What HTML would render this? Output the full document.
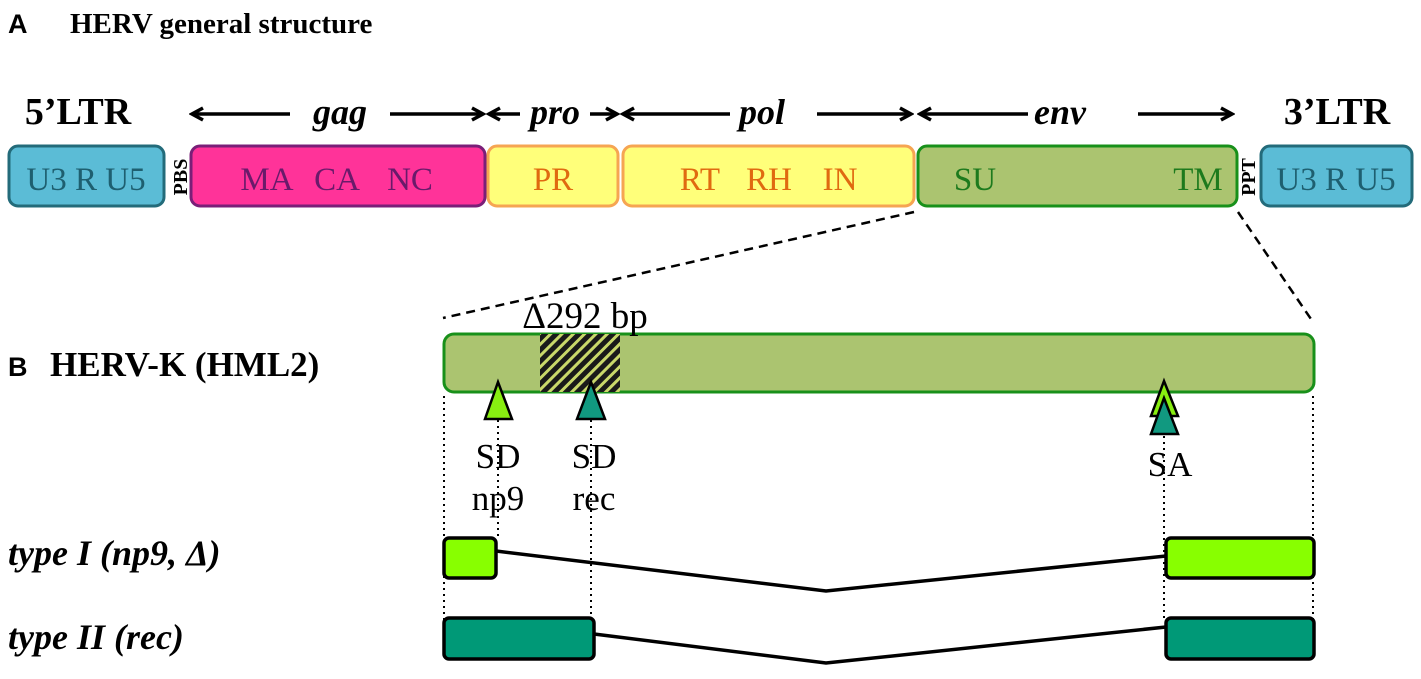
<!DOCTYPE html>
<html><head><meta charset="utf-8"><style>html,body{margin:0;padding:0;background:#fff;}svg{display:block}</style></head>
<body>
<svg width="1421" height="679" viewBox="0 0 1421 679" xmlns="http://www.w3.org/2000/svg">
<defs>
<pattern id="hatch" patternUnits="userSpaceOnUse" width="8" height="8" patternTransform="rotate(45)">
<rect width="8" height="8" fill="#1a1a1a"/><rect width="3" height="8" fill="#c9d86a"/>
</pattern>
<marker id="ah" markerWidth="16" markerHeight="16" refX="13" refY="8" orient="auto" markerUnits="userSpaceOnUse">
<path d="M2,2 L13,8 L2,14" fill="none" stroke="#000" stroke-width="3.5"/>
</marker>
</defs>
<g font-family="Liberation Serif, serif">
<text x="8" y="33" font-family="Liberation Sans, sans-serif" font-weight="bold" font-size="27">A</text>
<text x="70" y="33" font-weight="bold" font-size="29">HERV general structure</text>

<text x="78" y="124" font-weight="bold" font-size="38" text-anchor="middle">5’LTR</text>
<text x="1337" y="124" font-weight="bold" font-size="38" text-anchor="middle">3’LTR</text>
<g stroke="#000" stroke-width="3.5" fill="none">
<line x1="290" y1="114" x2="192" y2="114" marker-end="url(#ah)"/>
<line x1="390" y1="114" x2="483" y2="114" marker-end="url(#ah)"/>
<line x1="520" y1="114" x2="489" y2="114" marker-end="url(#ah)"/>
<line x1="590" y1="114" x2="617" y2="114" marker-end="url(#ah)"/>
<line x1="730" y1="114" x2="623" y2="114" marker-end="url(#ah)"/>
<line x1="817" y1="114" x2="911" y2="114" marker-end="url(#ah)"/>
<line x1="1028" y1="114" x2="920" y2="114" marker-end="url(#ah)"/>
<line x1="1138" y1="114" x2="1232" y2="114" marker-end="url(#ah)"/>
</g>
<g font-weight="bold" font-style="italic" font-size="36" text-anchor="middle">
<text x="340" y="124">gag</text><text x="555" y="124">pro</text><text x="762" y="124">pol</text><text x="1060" y="124">env</text>
</g>

<rect x="9" y="146" width="155" height="60" rx="9" fill="#5bbcd6" stroke="#236b7a" stroke-width="3"/>
<rect x="191" y="146" width="294" height="60" rx="9" fill="#ff3399" stroke="#7a1f78" stroke-width="3"/>
<rect x="488" y="146" width="130" height="60" rx="9" fill="#ffff7a" stroke="#f6a552" stroke-width="3"/>
<rect x="623" y="146" width="291" height="60" rx="9" fill="#ffff7a" stroke="#f6a552" stroke-width="3"/>
<rect x="918" y="146" width="319" height="60" rx="9" fill="#abc470" stroke="#18901a" stroke-width="3"/>
<rect x="1261" y="146" width="151" height="60" rx="9" fill="#5bbcd6" stroke="#236b7a" stroke-width="3"/>
<g font-size="33" text-anchor="middle">
<text x="86" y="190" fill="#1e5f70">U3 R U5</text>
<text x="1336" y="190" fill="#1e5f70">U3 R U5</text>
<text x="267" y="190" fill="#6a1a6a">MA</text>
<text x="337" y="190" fill="#6a1a6a">CA</text>
<text x="410" y="190" fill="#6a1a6a">NC</text>
<text x="553" y="190" fill="#e06a10">PR</text>
<text x="700" y="190" fill="#e06a10">RT</text>
<text x="769" y="190" fill="#e06a10">RH</text>
<text x="840" y="190" fill="#e06a10">IN</text>
<text x="975" y="190" fill="#1d7a1d">SU</text>
<text x="1198" y="190" fill="#1d7a1d">TM</text>
</g>
<text transform="translate(187,177) rotate(-90)" font-weight="bold" font-size="20" text-anchor="middle">PBS</text>
<text transform="translate(1255,177) rotate(-90)" font-weight="bold" font-size="20" text-anchor="middle">PPT</text>

<line x1="914" y1="212" x2="443" y2="318" stroke="#000" stroke-width="2.5" stroke-dasharray="9,6"/>
<line x1="1238" y1="212" x2="1313" y2="322" stroke="#000" stroke-width="2.5" stroke-dasharray="9,6"/>

<text x="8" y="376" font-family="Liberation Sans, sans-serif" font-weight="bold" font-size="27">B</text>
<text x="50" y="376" font-weight="bold" font-size="35">HERV-K (HML2)</text>
<rect x="444" y="334" width="870" height="58" rx="10" fill="#abc470" stroke="#18901a" stroke-width="3"/>
<rect x="540" y="334" width="80" height="58" fill="url(#hatch)"/>
<text x="585" y="328" font-size="37" text-anchor="middle">Δ292 bp</text>

<g stroke="#000" stroke-width="2" stroke-dasharray="2,4">
<line x1="444" y1="396" x2="444" y2="650"/>
<line x1="498" y1="420" x2="498" y2="538"/>
<line x1="591" y1="420" x2="591" y2="618"/>
<line x1="1164" y1="436" x2="1164" y2="618"/>
<line x1="1313" y1="396" x2="1313" y2="650"/>
</g>

<polygon points="498,382 485,419 512,419" fill="#88ee11" stroke="#000" stroke-width="2.5"/>
<polygon points="591,382 577,419 605,419" fill="#119980" stroke="#000" stroke-width="2.5"/>
<polygon points="1164,381 1151,416 1178,416" fill="#88ee11" stroke="#000" stroke-width="2.5"/>
<polygon points="1164,398 1151,434 1178,434" fill="#119980" stroke="#000" stroke-width="2.5"/>

<g font-size="35" text-anchor="middle">
<text x="498" y="468">SD</text><text x="498" y="510">np9</text>
<text x="594" y="468">SD</text><text x="594" y="510">rec</text>
<text x="1170" y="476">SA</text>
</g>

<text x="8" y="565" font-weight="bold" font-style="italic" font-size="36">type I (np9, Δ)</text>
<text x="8" y="649" font-weight="bold" font-style="italic" font-size="36">type II (rec)</text>
<g stroke="#000" stroke-width="3.5" fill="none">
<polyline points="496,551 826,591 1166,556"/>
<polyline points="594,634 826,663 1166,627"/>
</g>
<rect x="444" y="538" width="52" height="40" rx="5" fill="#88ff00" stroke="#000" stroke-width="3.5"/>
<rect x="1166" y="538" width="148" height="40" rx="5" fill="#88ff00" stroke="#000" stroke-width="3.5"/>
<rect x="444" y="618" width="150" height="41" rx="5" fill="#009977" stroke="#000" stroke-width="3.5"/>
<rect x="1166" y="618" width="148" height="41" rx="5" fill="#009977" stroke="#000" stroke-width="3.5"/>
</g>
</svg>
</body></html>
